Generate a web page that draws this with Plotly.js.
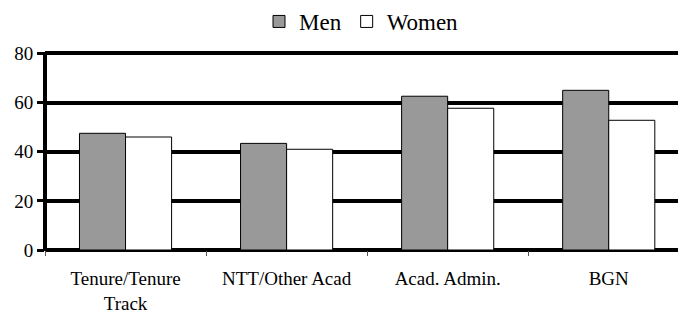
<!DOCTYPE html>
<html><head><meta charset="utf-8">
<script src="https://cdn.plot.ly/plotly-3.0.1.min.js"></script>
<style>html,body{margin:0;padding:0;background:#fff}</style>
</head><body>
<div id="chart" style="width:678px;height:314px"></div>
<script>
const categories = ["Tenure/Tenure<br>Track", "NTT/Other Acad", "Acad. Admin.", "BGN"];
const menValues = [47.5, 43.4, 62.6, 65.0];
const womenValues = [46.0, 41.0, 57.7, 52.8];
const seriesNames = ["Men", "Women"];
const yTicks = [0, 20, 40, 60, 80];

const FONT = "Liberation Serif, DejaVu Serif, Noto Serif, Times New Roman, Times, serif";
const data = [
  {type: "bar", name: seriesNames[0], x: categories, y: menValues,
   marker: {color: "#999999", line: {color: "#000", width: 1}}},
  {type: "bar", name: seriesNames[1], x: categories, y: womenValues,
   marker: {color: "#ffffff", line: {color: "#000", width: 1}}}
];
const layout = {
  width: 678, height: 314,
  margin: {l: 45, r: 0, t: 52, b: 64},
  paper_bgcolor: "#fff", plot_bgcolor: "#fff",
  font: {family: FONT, color: "#000", size: 19},
  barmode: "group", bargap: 0.428, bargroupgap: 0,
  showlegend: true,
  legend: {orientation: "h", x: 0.5, xanchor: "center", y: 1.155, yanchor: "middle",
           font: {size: 23}, itemwidth: 30, tracegroupgap: 0},
  xaxis: {type: "category", range: [-0.5, 3.43], tickson: "boundaries",
          ticks: "outside", ticklen: 5, tickwidth: 1, tickcolor: "#555",
          ticklabelstandoff: 15,
          showline: false, showgrid: false, tickfont: {size: 19}, fixedrange: true},
  yaxis: {range: [0, 80.6], tickvals: yTicks, ticktext: yTicks.map(String),
          showgrid: true, gridcolor: "#000", gridwidth: 4,
          zeroline: true, zerolinecolor: "#000", zerolinewidth: 4,
          showline: false,
          ticks: "outside", ticklen: 7, tickwidth: 3, tickcolor: "#000",
          tickfont: {size: 19}, fixedrange: true},
  shapes: [{type: "line", xref: "paper", yref: "paper", x0: 0, x1: 0, y0: -0.005, y1: 1,
            line: {color: "#000", width: 4}}]
};
Plotly.newPlot("chart", data, layout, {displayModeBar: false, staticPlot: true});
</script>
</body></html>
